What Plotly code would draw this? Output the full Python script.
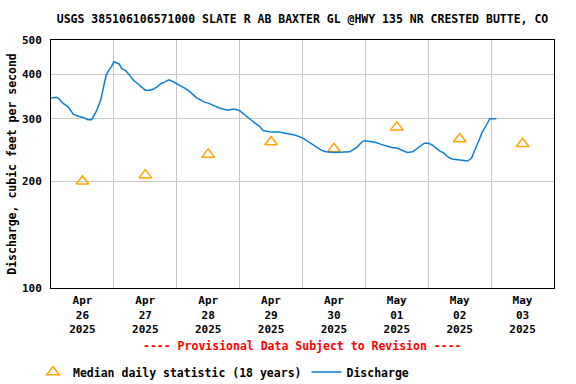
import plotly.graph_objects as go

# Median daily statistic (18 years), plotted at noon of each day
median_dates = ["2025-04-26 12:00", "2025-04-27 12:00", "2025-04-28 12:00", "2025-04-29 12:00",
                "2025-04-30 12:00", "2025-05-01 12:00", "2025-05-02 12:00", "2025-05-03 12:00"]
median_values = [200, 208, 238, 258, 247, 284, 263, 255]

# Discharge (cfs)
q_times = [
    "2025-04-26 00:00", "2025-04-26 02:00", "2025-04-26 03:00", "2025-04-26 04:30", "2025-04-26 06:30",
    "2025-04-26 08:30", "2025-04-26 10:30", "2025-04-26 12:30", "2025-04-26 14:00", "2025-04-26 15:30",
    "2025-04-26 16:30", "2025-04-26 17:30", "2025-04-26 19:00", "2025-04-26 20:00", "2025-04-26 21:00",
    "2025-04-26 22:00", "2025-04-26 23:00",
    "2025-04-27 00:00", "2025-04-27 01:00", "2025-04-27 02:00", "2025-04-27 03:00", "2025-04-27 04:30",
    "2025-04-27 06:00", "2025-04-27 07:30", "2025-04-27 09:00", "2025-04-27 10:30", "2025-04-27 12:00",
    "2025-04-27 13:30", "2025-04-27 15:00", "2025-04-27 16:30", "2025-04-27 18:00", "2025-04-27 19:30",
    "2025-04-27 21:00", "2025-04-27 22:30",
    "2025-04-28 00:00", "2025-04-28 01:30", "2025-04-28 03:00", "2025-04-28 04:30", "2025-04-28 06:00",
    "2025-04-28 07:30", "2025-04-28 09:00", "2025-04-28 10:30", "2025-04-28 12:00", "2025-04-28 13:30",
    "2025-04-28 15:00", "2025-04-28 16:30", "2025-04-28 18:00", "2025-04-28 19:30", "2025-04-28 21:00",
    "2025-04-28 22:30",
    "2025-04-29 00:00", "2025-04-29 01:30", "2025-04-29 03:00", "2025-04-29 04:30", "2025-04-29 06:00",
    "2025-04-29 07:30", "2025-04-29 09:00", "2025-04-29 10:30", "2025-04-29 12:00", "2025-04-29 15:00",
    "2025-04-29 18:00", "2025-04-29 21:00",
    "2025-04-30 00:00", "2025-04-30 01:30", "2025-04-30 03:00", "2025-04-30 04:30", "2025-04-30 06:00",
    "2025-04-30 07:30", "2025-04-30 09:00", "2025-04-30 12:00", "2025-04-30 15:00", "2025-04-30 18:00",
    "2025-04-30 19:30", "2025-04-30 21:00", "2025-04-30 22:00", "2025-04-30 23:00",
    "2025-05-01 00:00", "2025-05-01 02:00", "2025-05-01 04:00", "2025-05-01 06:00", "2025-05-01 08:00",
    "2025-05-01 10:00", "2025-05-01 12:00", "2025-05-01 14:00", "2025-05-01 16:00", "2025-05-01 18:00",
    "2025-05-01 19:30", "2025-05-01 21:00", "2025-05-01 22:30",
    "2025-05-02 00:00", "2025-05-02 01:30", "2025-05-02 03:00", "2025-05-02 04:30", "2025-05-02 06:00",
    "2025-05-02 07:30", "2025-05-02 09:00", "2025-05-02 11:00", "2025-05-02 13:00", "2025-05-02 15:00",
    "2025-05-02 16:30", "2025-05-02 17:30", "2025-05-02 18:30", "2025-05-02 19:30", "2025-05-02 20:30",
    "2025-05-02 21:30", "2025-05-02 22:30", "2025-05-02 23:30",
    "2025-05-03 01:00", "2025-05-03 02:00",
]
q_values = [
    343, 345, 342, 332, 324,
    309, 305, 302, 298, 298,
    307, 317, 339, 365, 397,
    410, 420,
    434, 432, 428, 415, 410,
    398, 385, 377, 368, 361,
    361, 363, 369, 377, 381,
    386, 382,
    377, 371, 366, 360, 352,
    344, 339, 334, 332, 328,
    324, 321, 319, 317, 319,
    319,
    316, 309, 303, 297, 291,
    286, 278, 276, 275, 275,
    272, 270,
    265, 261, 257, 252, 248,
    244, 242, 241, 241, 242,
    246, 250, 255, 259,
    260, 259, 257, 254, 251,
    249, 248, 244, 241, 242,
    247, 252, 256,
    256, 253, 248, 243, 240,
    234, 231, 230, 230, 228,
    232, 243, 252, 262, 274,
    282, 292, 300,
    300, 300,
]

tick_dates = median_dates
tick_labels = ["Apr<br>26<br>2025", "Apr<br>27<br>2025", "Apr<br>28<br>2025", "Apr<br>29<br>2025",
               "Apr<br>30<br>2025", "May<br>01<br>2025", "May<br>02<br>2025", "May<br>03<br>2025"]
y_ticks = [100, 200, 300, 400, 500]

FONT = "DejaVu Sans Mono"

fig = go.Figure()
fig.add_trace(go.Scatter(
    x=median_dates, y=median_values, mode="markers",
    name="Median daily statistic (18 years)",
    marker=dict(symbol="triangle-up-open", size=11, color="#FFA500", line=dict(width=1.5, color="#FFA500")),
))
fig.add_trace(go.Scatter(
    x=q_times, y=q_values, mode="lines", name="Discharge",
    line=dict(color="#0a7fd3", width=1.5),
))

fig.update_layout(
    width=576, height=384,
    margin=dict(l=51, r=22, t=40, b=96, autoexpand=False),
    paper_bgcolor="white", plot_bgcolor="white",
    font=dict(family=FONT, size=11.5, color="black", weight="bold"),
    title=dict(text="USGS 385106106571000 SLATE R AB BAXTER GL @HWY 135 NR CRESTED BUTTE, CO",
               x=0.5, xref="paper", y=1 - 19 / 384, yref="container", yanchor="middle", xanchor="center",
               font=dict(family=FONT, size=11.5, color="black", weight="bold")),
    showlegend=True,
    legend=dict(orientation="h", x=33 / 576, xref="container", xanchor="left",
                y=1 - 372 / 384, yref="container", yanchor="middle",
                font=dict(family=FONT, size=11.5, color="black", weight="bold"),
                bgcolor="rgba(0,0,0,0)", itemwidth=30, tracegroupgap=0),
    xaxis=dict(
        range=["2025-04-26 00:00", "2025-05-04 00:00"],
        tickmode="array", tickvals=tick_dates, ticktext=tick_labels,
        showgrid=False, ticks="", showline=True, linecolor="black", linewidth=1, mirror=True,
        tickfont=dict(family=FONT, size=11, color="black", weight="bold"),
        ticklabelstandoff=2,
        minor=dict(tick0="2025-04-26", dtick=86400000, showgrid=True, gridcolor="#c8c8c8", gridwidth=1, ticks=""),
        zeroline=False, automargin=False,
    ),
    yaxis=dict(
        type="log", range=[2, 2.69897],
        tickmode="array", tickvals=y_ticks, ticktext=[str(v) for v in y_ticks],
        showgrid=True, gridcolor="#c8c8c8", gridwidth=1,
        ticks="", ticklabelstandoff=6,
        showline=True, linecolor="black", linewidth=1, mirror=True,
        tickfont=dict(family=FONT, size=11, color="black", weight="bold"),
        title=dict(text="Discharge, cubic feet per second", standoff=2,
                   font=dict(family=FONT, size=11.5, color="black", weight="bold")),
        zeroline=False, automargin=False,
    ),
    annotations=[dict(
        text="---- Provisional Data Subject to Revision ----",
        xref="paper", yref="paper", x=0.5, y=-0.234, xanchor="center", yanchor="middle",
        showarrow=False, font=dict(family=FONT, size=11.5, color="red", weight="bold"),
    )],
)

fig.write_html("out.html", config={"displayModeBar": False},
               post_script="document.body.style.margin='0px';")
